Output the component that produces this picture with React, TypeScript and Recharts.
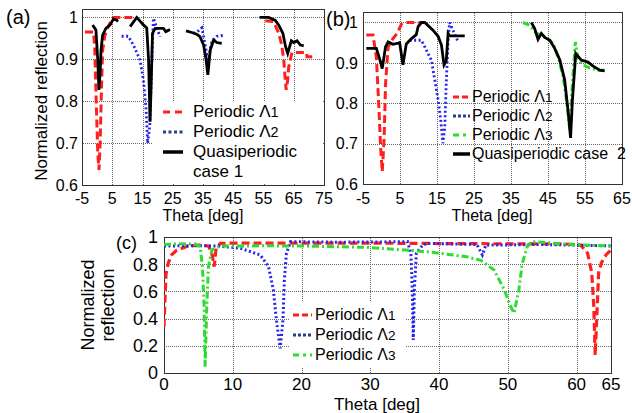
import { LineChart, Line, XAxis, YAxis, Legend } from 'recharts'

const FONT = '"Liberation Sans", Arial, Helvetica, sans-serif'
const RED = '#ff1f1f'
const BLUE = '#2424f0'
const NAVY = '#24408c'
const GREEN = '#2edc2e'
const BLACK = '#000'

// ---- panel (a) ----
const aTicksX = [-5, 5, 15, 25, 35, 45, 55, 65, 75]
const aTicksY = [0.6, 0.7, 0.8, 0.9, 1]

const aL1Theta = [-4, -1.2, -0.8, -0.3, 0.2, 0.6, 1.0, 1.4, 1.8, 2.5, 3.5, 4.5, 5.5, 11.9, 30, 55.6, 58.3, 60, 61, 61.7, 62.2, 62.5, 63.0, 63.3, 64.4, 69.2, 69.4, 72.2]
const aL1Refl = [0.965, 0.965, 0.93, 0.8, 0.68, 0.636, 0.7, 0.82, 0.92, 0.955, 0.975, 0.99, 1.0, 1.0, null, 0.992, 0.99, 0.963, 0.935, 0.898, 0.85, 0.827, 0.85, 0.88, 0.916, 0.916, 0.906, 0.906]

const aL2Theta = [8.1, 10.3, 12, 14.2, 15.3, 16.2, 16.7, 17.4, 18.0, 18.6, 20.8, 26, 31.8, 33.5, 34.6, 35.7, 36.6, 37.9, 39.6, 41.8]
const aL2Refl = [0.955, 0.955, 0.934, 0.898, 0.851, 0.78, 0.70, 0.74, 0.88, 0.998, 0.954, null, 0.962, 0.968, 0.975, 0.937, 0.894, 0.942, 0.955, 0.957]

const aQTheta = [-1.5, -0.4, 0.2, 0.6, 1.0, 1.3, 1.8, 2.9, 4.3, 5.4, 6.5, 6.9, 9, 10.9, 13.1, 15.3, 16.4, 17.0, 17.5, 17.9, 18.3, 19.2, 21.9, 22.7, 24.1, 27, 29.4, 31.3, 32.9, 34, 35.2, 36.0, 36.6, 37.4, 38.5, 39.6, 41.2, 48, 53.7, 56.7, 58.9, 60, 61.4, 62.3, 63, 64.2, 65, 66.1, 67.2, 68.3]
const aQRefl = [0.982, 0.97, 0.9, 0.827, 0.87, 0.922, 0.957, 0.974, 0.982, 0.996, 0.993, 0.99, null, 0.978, 1.0, 0.982, 0.975, 0.9, 0.751, 0.85, 0.962, 0.974, 0.974, 0.966, 0.971, null, 0.968, 0.964, 0.96, 0.954, 0.934, 0.9, 0.863, 0.922, 0.946, 0.94, 0.938, null, 1.0, 1.0, 0.993, 0.982, 0.962, 0.93, 0.914, 0.944, 0.94, 0.944, 0.934, 0.932]

// ---- panel (b) ----
const bTicksX = [-5, 5, 15, 25, 35, 45, 55, 65]
const bTicksY = [0.6, 0.7, 0.8, 0.9, 1]

const bL1Theta = [-4.1, -2.3, -1.4, -0.8, -0.2, 0.2, 0.7, 1.1, 1.8, 3.1, 4.2, 5.4, 6.7, 10.8]
const bL1Refl = [0.969, 0.969, 0.915, 0.808, 0.685, 0.631, 0.71, 0.849, 0.94, 0.96, 0.973, 0.996, 1.0, 1.0]

const bL2Theta = [7.6, 10.8, 12.1, 13.5, 14.4, 15.3, 16, 16.6, 17.1, 17.5, 18.0, 18.4, 20.7]
const bL2Refl = [0.956, 0.956, 0.932, 0.906, 0.858, 0.808, 0.759, 0.701, 0.74, 0.85, 0.956, 1.0, 0.952]

const bL3Theta = [38.2, 40, 41.9, 43.2, 44.6, 46.4, 47.7, 49.1, 50, 50.9, 51.6, 52.4, 53.1, 54.5, 56.3, 58.5, 60.3]
const bL3Refl = [1.0, 0.993, 0.973, 0.969, 0.963, 0.948, 0.915, 0.866, 0.808, 0.734, 0.85, 0.952, 0.91, 0.895, 0.887, 0.882, 0.882]

const bQTheta = [-4.1, -1.4, -0.5, 0.2, 1.1, 1.8, 3.1, 4.2, 4.9, 5.8, 6.7, 8.1, 9.4, 9.9, 10.8, 11.7, 13.9, 15.3, 16.2, 16.9, 17.5, 18.0, 18.4, 22.5, 30, 40.5, 41.4, 42.3, 43.2, 44.1, 45.5, 46.8, 48.2, 49.5, 50.4, 51.1, 51.6, 52.5, 54, 55.8, 57.2, 59, 60.3]
const bQRefl = [0.936, 0.936, 0.91, 0.886, 0.94, 0.952, 0.946, 0.948, 0.95, 0.895, 0.947, 0.96, 0.97, 0.99, 1.0, 1.0, 0.981, 0.966, 0.944, 0.895, 0.905, 0.973, 0.967, 0.967, null, 1.0, 0.985, 0.958, 0.973, 0.963, 0.956, 0.936, 0.907, 0.858, 0.783, 0.714, 0.808, 0.923, 0.907, 0.902, 0.892, 0.882, 0.88]

// ---- panel (c) ----
const cTicksX = [0, 10, 20, 30, 40, 50, 60, 65]
const cTicksY = [0, 0.2, 0.4, 0.6, 0.8, 1]

const cL1Theta = [0, 0.15, 0.3, 0.63, 1.1, 1.85, 3.3, 5.2, 6.46, 6.95, 7.3, 7.58, 8.2, 10, 20, 30, 40, 50, 58, 60.6, 61.6, 62.2, 62.5, 62.7, 63, 63.2, 63.6, 64.3, 65]
const cL1Refl = [0.34, 0.55, 0.73, 0.81, 0.868, 0.904, 0.93, 0.941, 0.934, 0.88, 0.782, 0.917, 0.953, 0.955, 0.955, 0.955, 0.952, 0.95, 0.95, 0.94, 0.88, 0.735, 0.49, 0.132, 0.49, 0.735, 0.81, 0.87, 0.905]

const cL2Theta = [0, 5, 8, 11.1, 14, 15.2, 15.9, 16.4, 16.9, 17.3, 17.5, 17.8, 18.4, 19.3, 25, 30, 35.4, 35.9, 36.1, 36.25, 36.4, 36.7, 37.6, 38.3, 45.5, 46.3, 46.8, 55, 60, 65]
const cL2Refl = [0.934, 0.936, 0.933, 0.917, 0.868, 0.782, 0.61, 0.365, 0.181, 0.39, 0.684, 0.88, 0.966, 0.965, 0.962, 0.963, 0.966, 0.88, 0.61, 0.243, 0.61, 0.88, 0.94, 0.953, 0.945, 0.868, 0.94, 0.945, 0.94, 0.934]

const cL3Theta = [0, 2, 4.5, 5.25, 5.6, 5.83, 5.98, 6.22, 6.46, 6.95, 8.2, 15, 19.8, 29.5, 38.3, 44, 46.1, 48, 49.5, 50.2, 50.9, 51.6, 52.1, 52.9, 53.6, 57.7, 61.6, 65]
const cL3Refl = [0.945, 0.95, 0.948, 0.93, 0.78, 0.488, 0.047, 0.49, 0.78, 0.904, 0.934, 0.935, 0.934, 0.924, 0.892, 0.855, 0.828, 0.757, 0.61, 0.512, 0.44, 0.61, 0.806, 0.941, 0.966, 0.95, 0.94, 0.935]

const zip = (xs: number[], ys: (number | null)[]) => xs.map((x, i) => ({ x, y: ys[i] }))

const styleL1 = { stroke: RED, strokeWidth: 3, strokeDasharray: '8 4' }
const styleL2 = { stroke: BLUE, strokeWidth: 2.8, strokeDasharray: '2 2.5' }
const styleL3 = { stroke: GREEN, strokeWidth: 3, strokeDasharray: '7 3 2 3' }
const styleQ = { stroke: BLACK, strokeWidth: 2.8 }

type Item = { name: string; sub?: string; color?: string; dash?: string; width?: number }

function LegendList({ items, fontSize, rowH, sampleW, gap }: { items: Item[]; fontSize: number; rowH: number; sampleW: number; gap: number }) {
  return (
    <div style={{ fontSize, color: '#000', fontFamily: FONT }}>
      {items.map((it, i) => (
        <div key={i} style={{ display: 'flex', alignItems: 'center', height: rowH, whiteSpace: 'pre' }}>
          <svg width={sampleW} height={8} style={{ marginRight: gap, flex: 'none' }}>
            {it.color && (
              <line x1={0} y1={4} x2={sampleW} y2={4} stroke={it.color} strokeWidth={it.width} strokeDasharray={it.dash} />
            )}
          </svg>
          <span>
            {it.name}
            {it.sub && <span style={{ fontSize: '0.85em' }}>{it.sub}</span>}
          </span>
        </div>
      ))}
    </div>
  )
}

// axes box with the dotted grid at the tick values, laid under each plot area
function Frame({ left, top, width, height, xDomain, yDomain, xTicks, yTicks }: {
  left: number; top: number; width: number; height: number
  xDomain: number[]; yDomain: number[]; xTicks: number[]; yTicks: number[]
}) {
  const fx = (v: number) => Math.round(((v - xDomain[0]) / (xDomain[1] - xDomain[0])) * width)
  const fy = (v: number) => Math.round(((yDomain[1] - v) / (yDomain[1] - yDomain[0])) * height)
  return (
    <div style={{ position: 'absolute', left, top, width, height }}>
      {xTicks.map(v => (
        <div key={'x' + v} style={{ position: 'absolute', left: fx(v), top: 0, height, borderLeft: '1px dotted #666' }} />
      ))}
      {yTicks.map(v => (
        <div key={'y' + v} style={{ position: 'absolute', left: 0, top: fy(v), width, borderTop: '1px dotted #666' }} />
      ))}
      <div style={{ position: 'absolute', left: 0, top: 0, width: width + 1, height: height + 1, border: '1px solid #333', boxSizing: 'border-box' }} />
    </div>
  )
}

const vText = (x: number, y: number, text: string, size: number) => () => (
  <text transform={`translate(${x},${y}) rotate(-90)`} textAnchor="middle" dominantBaseline="central" fontSize={size} fill="#000">
    {text}
  </text>
)

const hText = (x: number, y: number, text: string, size: number) => () => (
  <text x={x} y={y} textAnchor="middle" fontSize={size} fill="#000">
    {text}
  </text>
)

const tickFont = { fontSize: 16, fill: '#000' }

export default function App() {
  return (
    <div style={{ position: 'absolute', left: 0, top: 0, width: 632, height: 413, background: '#fff', fontFamily: FONT }}>
      <Frame left={82} top={9} width={242} height={176} xDomain={[-5, 75]} yDomain={[0.6, 1.02]} xTicks={aTicksX} yTicks={aTicksY} />
      <Frame left={363} top={12} width={259} height={172} xDomain={[-5, 65]} yDomain={[0.6, 1.026]} xTicks={bTicksX} yTicks={bTicksY} />
      <Frame left={164} top={237} width={447} height={136} xDomain={[0, 65]} yDomain={[0, 1]} xTicks={cTicksX} yTicks={cTicksY} />

      {/* (a) */}
      <div style={{ position: 'absolute', left: 0, top: 0 }}>
        <LineChart width={340} height={225} margin={{ top: 9, right: 16, bottom: 0, left: 0 }}>
          <XAxis dataKey="x" type="number" domain={[-5, 75]} ticks={aTicksX} interval={0} allowDataOverflow height={40}
            axisLine={false} tickLine={false} tickSize={0} tickMargin={8} tick={tickFont}
            label={{ content: hText(203, 221, 'Theta [deg]', 16) }} />
          <YAxis type="number" domain={[0.6, 1.02]} ticks={aTicksY} interval={0} allowDataOverflow width={82}
            axisLine={false} tickLine={false} tickSize={0} tickMargin={4} tick={tickFont}
            label={{ content: vText(41, 101, 'Normalized reflection', 17) }} />
          <Line data={zip(aL1Theta, aL1Refl)} dataKey="y" {...styleL1} dot={false} isAnimationActive={false} />
          <Line data={zip(aL2Theta, aL2Refl)} dataKey="y" {...styleL2} dot={false} isAnimationActive={false} />
          <Line data={zip(aQTheta, aQRefl)} dataKey="y" {...styleQ} dot={false} isAnimationActive={false} />
          <Legend verticalAlign="middle" align="center" layout="horizontal"
            wrapperStyle={{ left: 153, top: 101, width: 169, height: 83, background: '#fff', paddingLeft: 10, paddingTop: 1, boxSizing: 'border-box' }}
            content={() => (
              <LegendList fontSize={17} rowH={20} sampleW={20} gap={10} items={[
                { name: 'Periodic Λ', sub: '1', color: RED, dash: '7 5', width: 3 },
                { name: 'Periodic Λ', sub: '2', color: NAVY, dash: '3 2.5', width: 3 },
                { name: 'Quasiperiodic', color: BLACK, width: 3.5 },
                { name: 'case 1' },
              ]} />
            )} />
        </LineChart>
      </div>

      {/* (b) */}
      <div style={{ position: 'absolute', left: 310, top: 0 }}>
        <LineChart width={322} height={224} margin={{ top: 12, right: 10, bottom: 0, left: 0 }}>
          <XAxis dataKey="x" type="number" domain={[-5, 65]} ticks={bTicksX} interval={0} allowDataOverflow height={40}
            axisLine={false} tickLine={false} tickSize={0} tickMargin={9} tick={tickFont}
            label={{ content: hText(182, 221, 'Theta [deg]', 16) }} />
          <YAxis type="number" domain={[0.6, 1.026]} ticks={bTicksY} interval={0} allowDataOverflow width={53}
            axisLine={false} tickLine={false} tickSize={0} tickMargin={5} tick={tickFont} />
          <Line data={zip(bL1Theta, bL1Refl)} dataKey="y" {...styleL1} dot={false} isAnimationActive={false} />
          <Line data={zip(bL2Theta, bL2Refl)} dataKey="y" {...styleL2} dot={false} isAnimationActive={false} />
          <Line data={zip(bL3Theta, bL3Refl)} dataKey="y" {...styleL3} dot={false} isAnimationActive={false} />
          <Line data={zip(bQTheta, bQRefl)} dataKey="y" {...styleQ} dot={false} isAnimationActive={false} />
          <Legend verticalAlign="middle" align="center" layout="horizontal"
            wrapperStyle={{ left: 143, top: 87, width: 180 }}
            content={() => (
              <LegendList fontSize={16} rowH={19} sampleW={17} gap={2} items={[
                { name: 'Periodic Λ', sub: '1', color: RED, dash: '6 3', width: 3 },
                { name: 'Periodic Λ', sub: '2', color: NAVY, dash: '3 2', width: 3 },
                { name: 'Periodic Λ', sub: '3', color: GREEN, dash: '6 4 3 4', width: 3 },
                { name: 'Quasiperiodic case  2', color: BLACK, width: 3.5 },
              ]} />
            )} />
        </LineChart>
      </div>

      {/* (c) */}
      <div style={{ position: 'absolute', left: 0, top: 225 }}>
        <LineChart width={632} height={188} margin={{ top: 12, right: 21, bottom: 0, left: 0 }}>
          <XAxis dataKey="x" type="number" domain={[0, 65]} ticks={cTicksX} interval={0} allowDataOverflow height={40}
            axisLine={false} tickLine={false} tickSize={0} tickMargin={5} tick={{ fontSize: 17, fill: '#000' }}
            label={{ content: hText(377, 185, 'Theta [deg]', 17) }} />
          <YAxis type="number" domain={[0, 1]} ticks={cTicksY} interval={0} allowDataOverflow width={164}
            axisLine={false} tickLine={false} tickSize={0} tickMargin={6} tick={{ fontSize: 18, fill: '#000' }}
            label={{ content: () => (
              <g>
                {vText(88, 80, 'Normalized', 18)()}
                {vText(108, 80, 'reflection', 18)()}
              </g>
            ) }} />
          <Line data={zip(cL1Theta, cL1Refl)} dataKey="y" {...styleL1} strokeWidth={3.2} dot={false} isAnimationActive={false} />
          <Line data={zip(cL2Theta, cL2Refl)} dataKey="y" {...styleL2} strokeWidth={3} dot={false} isAnimationActive={false} />
          <Line data={zip(cL3Theta, cL3Refl)} dataKey="y" {...styleL3} dot={false} isAnimationActive={false} />
          <Legend verticalAlign="middle" align="center" layout="horizontal"
            wrapperStyle={{ left: 290, top: 77, width: 115, height: 66, background: '#fff', paddingLeft: 3, paddingTop: 3, boxSizing: 'border-box' }}
            content={() => (
              <LegendList fontSize={16} rowH={20} sampleW={19} gap={3} items={[
                { name: 'Periodic Λ', sub: '1', color: RED, dash: '6 3', width: 3 },
                { name: 'Periodic Λ', sub: '2', color: NAVY, dash: '3 2', width: 3 },
                { name: 'Periodic Λ', sub: '3', color: GREEN, dash: '6 4 3 4', width: 3 },
              ]} />
            )} />
        </LineChart>
      </div>

      <div style={{ position: 'absolute', left: 6, top: 7, fontSize: 20, lineHeight: '20px' }}>(a)</div>
      <div style={{ position: 'absolute', left: 326, top: 9, fontSize: 20, lineHeight: '20px' }}>(b)</div>
      <div style={{ position: 'absolute', left: 116, top: 234, fontSize: 18, lineHeight: '18px' }}>(c)</div>
    </div>
  )
}
